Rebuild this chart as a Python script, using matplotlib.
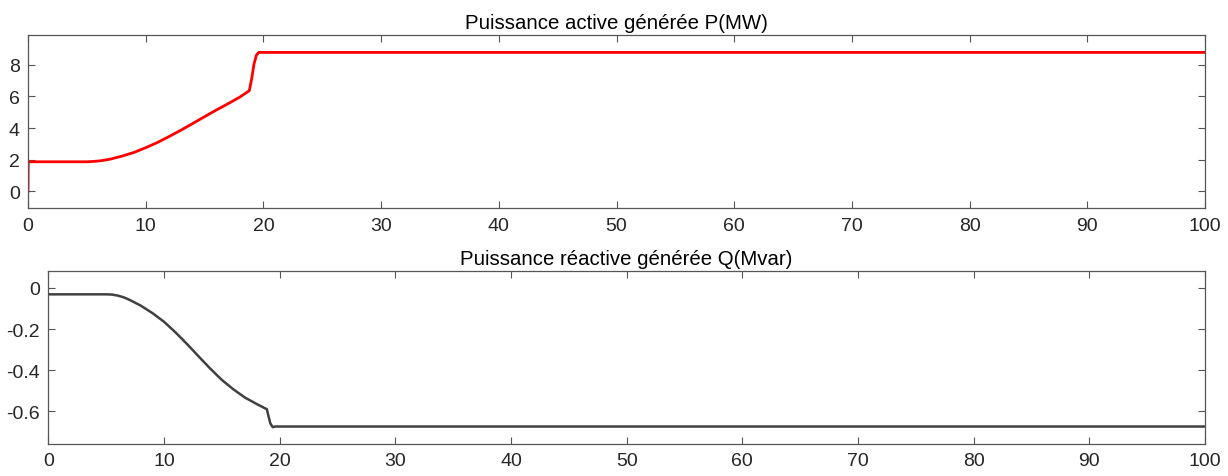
import matplotlib

matplotlib.use("Agg")
import matplotlib.pyplot as plt

# active power P (MW)
t_p = [0.0, 0.02, 5.0, 5.5, 6.0, 6.5, 7.0, 8.0, 9.0, 10.0, 11.0, 12.0, 13.0, 14.0, 15.0,
       16.0, 17.0, 18.0, 18.8, 19.0, 19.2, 19.4, 19.6, 100.0]
p_mw = [0.0, 1.87, 1.87, 1.89, 1.92, 1.97, 2.04, 2.23, 2.46, 2.76, 3.09, 3.47, 3.87,
        4.29, 4.72, 5.14, 5.54, 5.96, 6.36, 7.1, 8.04, 8.6, 8.78, 8.78]

# reactive power Q (Mvar)
t_q = [0.0, 5.0, 5.5, 6.0, 6.5, 7.0, 8.0, 9.0, 10.0, 11.0, 12.0, 13.0, 14.0, 15.0,
       16.0, 17.0, 18.0, 18.9, 19.0, 19.2, 19.4, 19.6, 100.0]
q_mvar = [-0.031, -0.031, -0.032, -0.037, -0.045, -0.057, -0.086, -0.122, -0.164,
          -0.216, -0.273, -0.333, -0.392, -0.447, -0.493, -0.533, -0.564, -0.590,
          -0.615, -0.659, -0.677, -0.674, -0.674]

title_p = "Puissance active générée P(MW)"
title_q = "Puissance réactive générée Q(Mvar)"
x_ticks = list(range(0, 101, 10))
p_ticks = [0, 2, 4, 6, 8]
q_ticks = [0, -0.2, -0.4, -0.6]

plt.rcParams["font.family"] = ["Liberation Sans", "DejaVu Sans"]
axis_grey = "#555555"
text_grey = "#262626"

fig = plt.figure(figsize=(12.28, 4.77), dpi=100)
ax1 = fig.add_axes([0.0228, 0.5612, 0.9585, 0.3633])
ax2 = fig.add_axes([0.0393, 0.0671, 0.9420, 0.3620])


def style(ax):
    ax.set_xlim(0, 100)
    ax.set_xticks(x_ticks)
    ax.tick_params(direction="in", top=True, right=True, length=5, width=0.8,
                   colors=axis_grey, labelcolor=text_grey, labelsize=14, pad=6)
    for spine in ax.spines.values():
        spine.set_color(axis_grey)
        spine.set_linewidth(0.9)


ax1.plot(t_p, p_mw, color="#ff0000", lw=2.0)
ax1.set_ylim(-1.07, 9.88)
ax1.set_yticks(p_ticks)
style(ax1)
ax1.set_title(title_p, fontsize=14.7, color="black", pad=5)

ax2.plot(t_q, q_mvar, color="#404040", lw=1.8)
ax2.set_ylim(-0.759, 0.081)
ax2.set_yticks(q_ticks)
ax2.set_yticklabels(["0", "-0.2", "-0.4", "-0.6"])
style(ax2)
ax2.set_title(title_q, fontsize=14.7, color="black", pad=5)

fig.savefig("out.png", dpi=100)
